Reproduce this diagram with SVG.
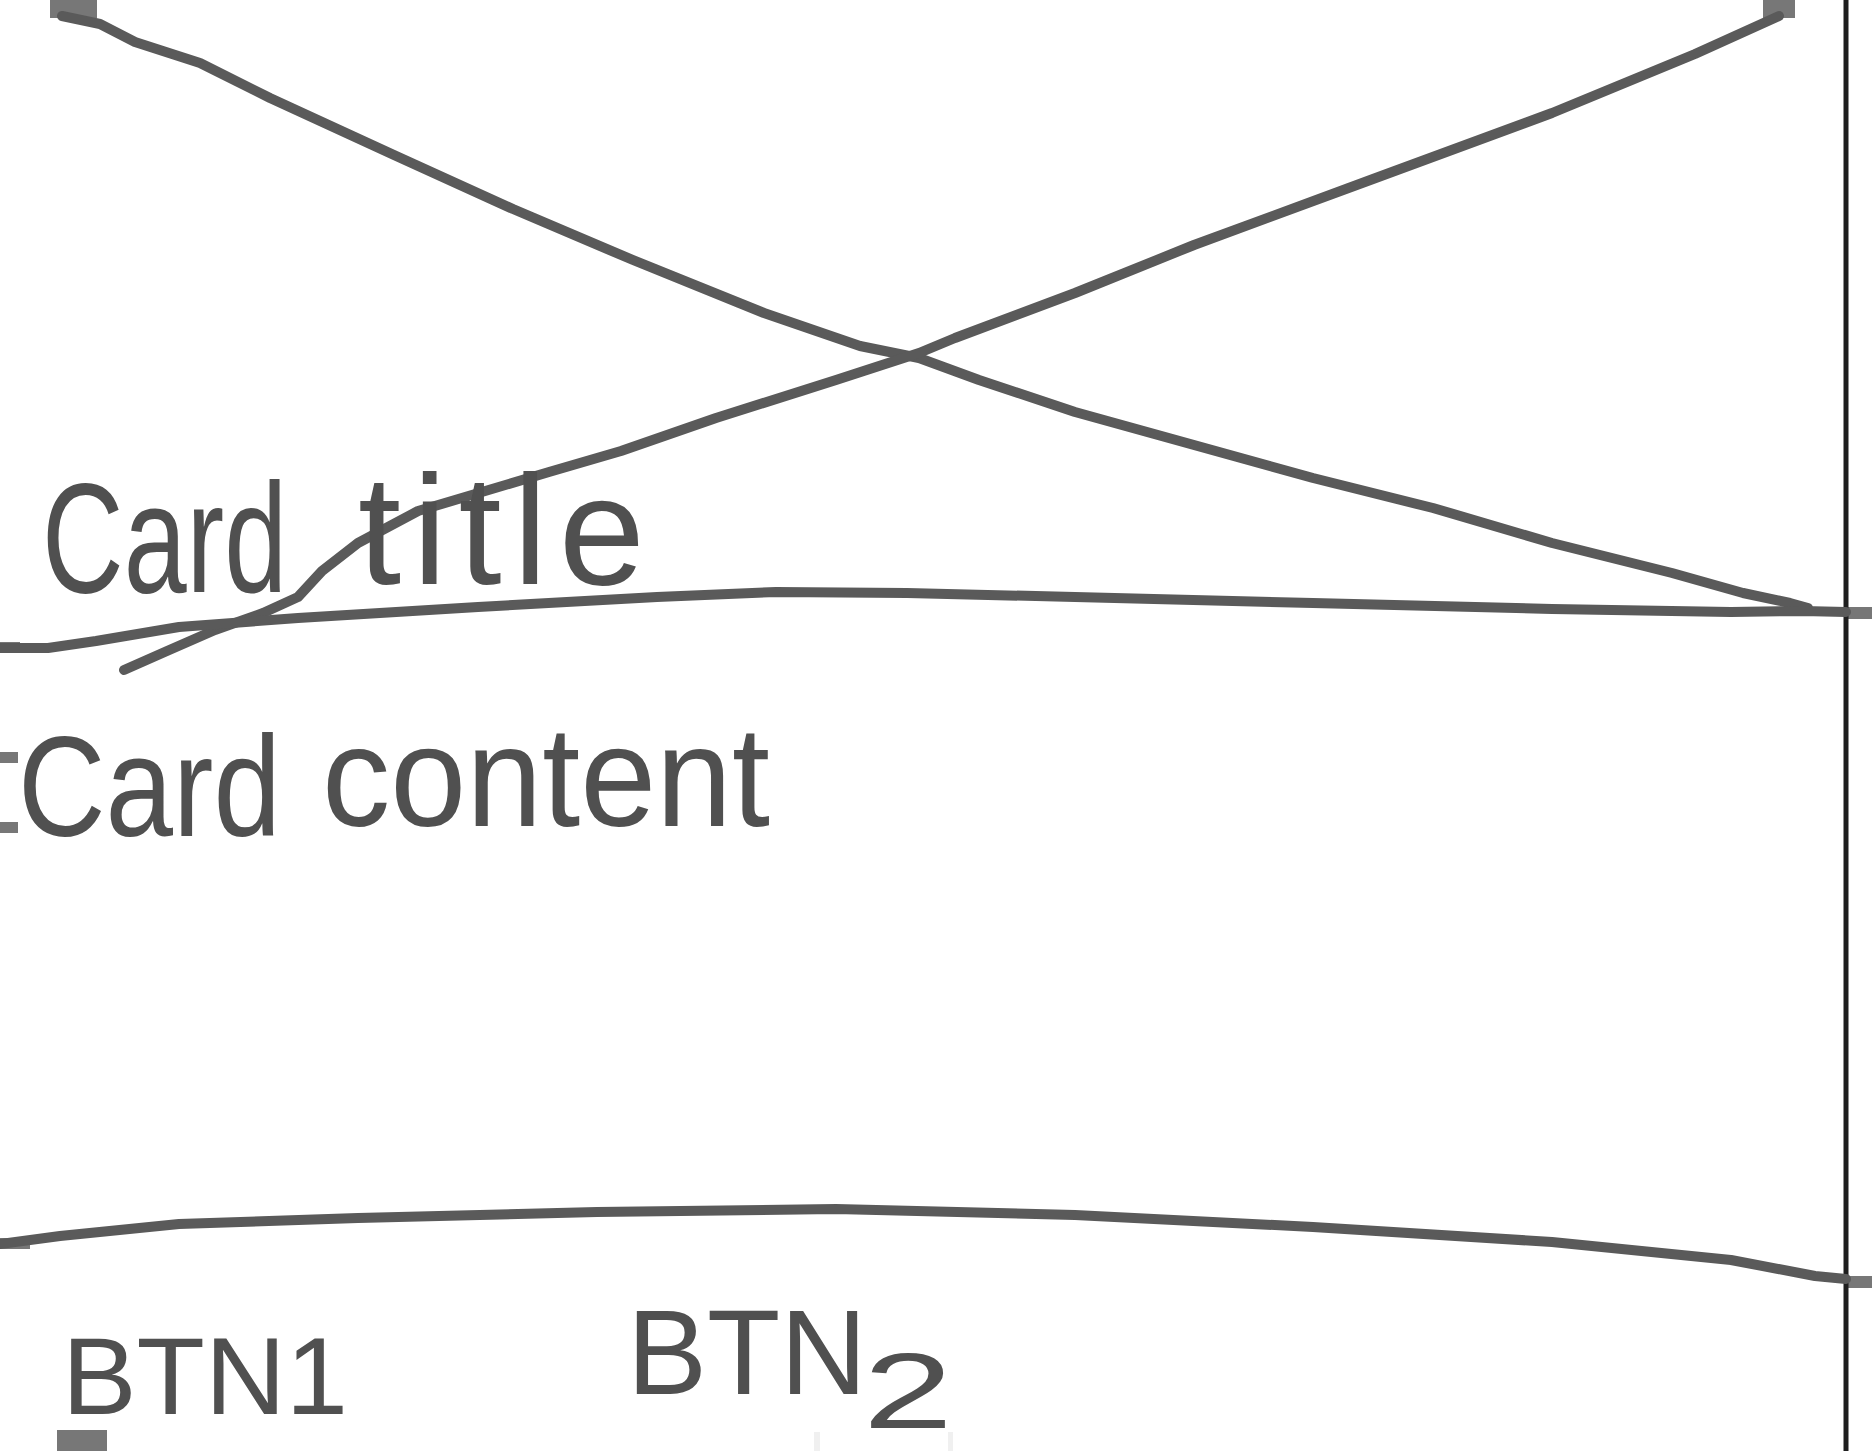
<svg xmlns="http://www.w3.org/2000/svg" width="1872" height="1451" viewBox="0 0 1872 1451">
  <style>
    .ink { fill: none; stroke: #5a5a5a; stroke-width: 10; stroke-linecap: round; stroke-linejoin: round; }
    .frame { fill: none; stroke: #1e1e1e; stroke-width: 5; }
    .stub { fill: #777777; }
    .faint { fill: #f0f0f0; }
    .hand { font-family: "Liberation Sans", Arial, sans-serif; fill: #505050; }
  </style>
  <rect width="1872" height="1451" fill="#ffffff"/>

  <g id="scan-edges">
    <rect class="stub" x="50" y="0" width="47" height="18"/>
    <rect class="stub" x="1763" y="0" width="32" height="18"/>
    <rect class="stub" x="1846" y="607" width="26" height="12"/>
    <rect class="stub" x="1846" y="1276" width="26" height="12"/>
    <rect class="stub" x="0" y="642" width="20" height="11"/>
    <rect class="stub" x="0" y="752" width="18" height="11"/>
    <rect class="stub" x="0" y="822" width="18" height="11"/>
    <rect class="stub" x="0" y="1238" width="30" height="11"/>
    <rect class="stub" x="57" y="1430" width="50" height="21"/>
    <rect class="faint" x="814" y="1432" width="6" height="19"/>
    <rect class="faint" x="948" y="1432" width="5" height="19"/>
  </g>

  <g id="card-frame">
    <line class="frame" x1="1846" y1="0" x2="1846" y2="1451"/>
  </g>

  <g id="image-placeholder">
    <polyline class="ink" points="62,16 100,24 135,42 200,63 270,98 394,155 513,209 633,260 764,313 860,346 919,358 979,380 1075,412 1194,445 1313,478 1433,508 1552,543 1672,573 1743,593 1790,603 1808,608"/>
    <polyline class="ink" points="1779,16 1695,54 1552,113 1373,179 1194,245 1075,293 955,338 919,353 836,380 716,418 621,451 549,472 418,511 358,543 322,571 298,597 263,613 215,630 167,651 124,670"/>
  </g>

  <g id="separators">
    <polyline class="ink" points="0,648 48,648 96,641 179,627 298,618 478,607 657,597 776,592 907,593 1075,597 1313,603 1552,609 1731,612 1803,611 1846,612"/>
    <polyline class="ink" points="0,1244 60,1236 179,1224 358,1218 597,1212 836,1209 1075,1215 1313,1227 1552,1242 1731,1260 1815,1276 1846,1279"/>
  </g>

  <g id="card-title">
    <text class="hand" x="42" y="592" font-size="155" textLength="245" lengthAdjust="spacingAndGlyphs">Card</text>
    <text class="hand" x="358" y="584" font-size="155" textLength="287" lengthAdjust="spacing">title</text>
  </g>

  <g id="card-content">
    <text class="hand" x="18" y="836" font-size="142" textLength="263" lengthAdjust="spacingAndGlyphs">Card</text>
    <text class="hand" x="322" y="826" font-size="142" textLength="448" lengthAdjust="spacingAndGlyphs">content</text>
  </g>

  <g id="btn1">
    <text class="hand" x="62" y="1414" font-size="110" textLength="286" lengthAdjust="spacingAndGlyphs">BTN1</text>
  </g>

  <g id="btn2">
    <text class="hand" x="627" y="1394" font-size="120" textLength="240" lengthAdjust="spacingAndGlyphs">BTN</text>
    <text class="hand" x="863" y="1428" font-size="108" textLength="90" lengthAdjust="spacingAndGlyphs">2</text>
  </g>
</svg>
